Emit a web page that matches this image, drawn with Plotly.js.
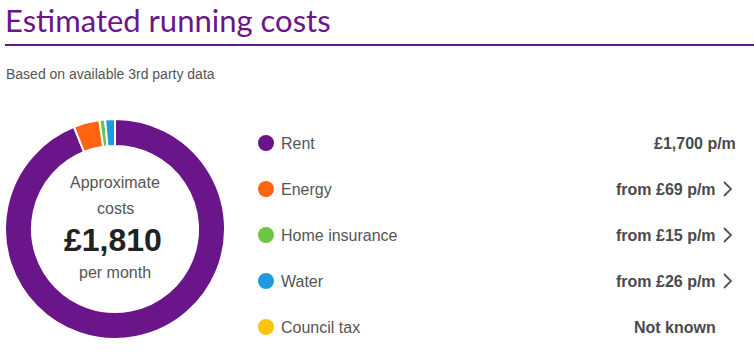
<!DOCTYPE html>
<html>
<head>
<meta charset="utf-8">
<script src="https://cdn.plot.ly/plotly-3.0.1.min.js"></script>
<style>html,body{margin:0;padding:0;background:#fff;}#chart{width:754px;height:359px;}</style>
</head>
<body>
<div id="chart"></div>
<script>
// ---- data ----
const categories = ['Rent', 'Energy', 'Home insurance', 'Water', 'Council tax'];
const monthlyCosts = [1700, 69, 15, 26, null];
const valueLabels = ['£1,700 p/m', 'from £69 p/m', 'from £15 p/m', 'from £26 p/m', 'Not known'];
const hasLink = [false, true, true, true, false];
const sliceColors = ['#6a1589', '#ff6410', '#6cc644', '#1e9be0', '#ffc20e'];
const titleText = 'Estimated running costs';
const subtitleText = 'Based on available 3rd party data';

// ---- layout helpers (pixel -> paper) ----
const W = 754, H = 359;
const px = x => x / W;
const py = y => 1 - y / H;

const total = monthlyCosts.reduce((s, v) => s + (v || 0), 0);
const totalText = '£' + total.toLocaleString('en-GB');

const FONT = 'Liberation Sans, Arial, sans-serif';

const pie = {
  type: 'pie',
  labels: categories,
  values: monthlyCosts.map(v => v || 0),
  marker: {colors: sliceColors, line: {color: '#ffffff', width: 2}},
  sort: false,
  direction: 'clockwise',
  rotation: 0,
  hole: 0.755,
  textinfo: 'none',
  hoverinfo: 'none',
  showlegend: false,
  domain: {x: [px(5), px(225)], y: [py(339), py(119)]}
};

const legendDots = {
  type: 'scatter',
  mode: 'markers',
  x: categories.map(() => 0),
  y: categories,
  marker: {color: sliceColors, size: 16, line: {width: 0}},
  hoverinfo: 'none',
  showlegend: false,
  xaxis: 'x', yaxis: 'y'
};

const annotations = [
  {xref: 'paper', yref: 'paper', x: px(3), y: py(20), xanchor: 'left', yanchor: 'middle',
   text: titleText, showarrow: false, font: {family: 'Lato', size: 31, color: '#6a1589'}},
  {xref: 'paper', yref: 'paper', x: px(4), y: py(74), xanchor: 'left', yanchor: 'middle',
   text: subtitleText, showarrow: false, font: {family: FONT, size: 14, color: '#555555'}},
  {xref: 'paper', yref: 'paper', x: px(115), y: py(182), xanchor: 'center', yanchor: 'middle',
   text: 'Approximate', showarrow: false, font: {family: FONT, size: 16, color: '#555555'}},
  {xref: 'paper', yref: 'paper', x: px(115), y: py(208), xanchor: 'center', yanchor: 'middle',
   text: 'costs', showarrow: false, font: {family: FONT, size: 16, color: '#555555'}},
  {xref: 'paper', yref: 'paper', x: px(113), y: py(240), xanchor: 'center', yanchor: 'middle',
   text: '<b>' + totalText + '</b>', showarrow: false, font: {family: FONT, size: 32, color: '#222222'}},
  {xref: 'paper', yref: 'paper', x: px(115), y: py(272), xanchor: 'center', yanchor: 'middle',
   text: 'per month', showarrow: false, font: {family: FONT, size: 16, color: '#555555'}}
];

const shapes = [
  {type: 'line', xref: 'paper', yref: 'paper', x0: px(5), x1: 1, y0: py(45), y1: py(45),
   line: {color: '#6a1589', width: 2}}
];

categories.forEach((c, i) => {
  annotations.push({xref: 'paper', yref: 'y', x: px(279), y: c, xanchor: 'left', yanchor: 'middle',
    text: c, showarrow: false, font: {family: FONT, size: 16, color: '#555555'}});
  annotations.push({xref: 'paper', yref: 'y', x: px((hasLink[i] || monthlyCosts[i] == null) ? 718 : 738), y: c,
    xanchor: 'right', yanchor: 'middle',
    text: '<b>' + valueLabels[i] + '</b>', showarrow: false, font: {family: FONT, size: 16, color: '#4a4a4a'}});
  if (hasLink[i]) {
    const yc = 143 + i * 46;
    shapes.push({type: 'path', xref: 'paper', yref: 'paper',
      path: `M ${px(724)} ${py(yc - 7)} L ${px(731)} ${py(yc)} L ${px(724)} ${py(yc + 7)}`,
      line: {color: '#555555', width: 1.8}});
  }
});

const layout = {
  width: W, height: H,
  margin: {l: 0, r: 0, t: 0, b: 0},
  paper_bgcolor: '#ffffff', plot_bgcolor: 'rgba(0,0,0,0)',
  xaxis: {domain: [0, 1], range: [-266, 754 - 266], visible: false, fixedrange: true},
  yaxis: {domain: [py(350), py(120)], type: 'category', categoryarray: categories,
          range: [categories.length - 0.5, -0.5], visible: false, fixedrange: true},
  annotations: annotations,
  shapes: shapes,
  showlegend: false
};

Plotly.newPlot('chart', [pie, legendDots], layout, {displayModeBar: false, staticPlot: true});
</script>
</body>
</html>
